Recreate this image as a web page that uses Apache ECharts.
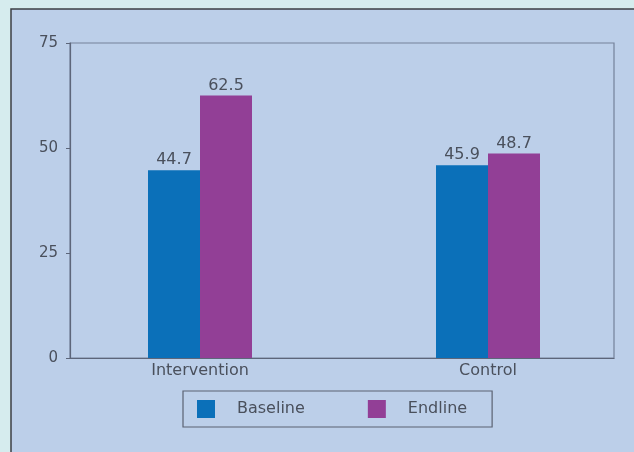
<!DOCTYPE html>
<html>
<head>
<meta charset="utf-8">
<style>
  html, body { margin: 0; padding: 0; background: #d6ecee; }
  #chart { width: 634px; height: 452px; }
</style>
<script src="https://cdn.jsdelivr.net/npm/echarts@6/dist/echarts.min.js"></script>
</head>
<body>
<div id="chart"></div>
<script>
// Group labels and the two survey rounds
const categories = ['Intervention', 'Control'];
const baseline = [44.7, 45.9];
const endline = [62.5, 48.7];
const seriesNames = ['Baseline', 'Endline'];

// Value axis range and tick step
const yMin = 0;
const yMax = 75;
const yStep = 25;

// Groups sit at positions 0 and 1 on a numeric x scale
const groupPos = categories.map((_, i) => i);
const xMin = -0.4514;
const xMax = 1.4375;

const FONT = 'DejaVu Sans';
const TEXT = '#4a505c';

const chart = echarts.init(document.getElementById('chart'), null, { renderer: 'canvas' });

chart.setOption({
  backgroundColor: 'transparent',
  animation: false,
  textStyle: { fontFamily: FONT },
  graphic: [{
    type: 'rect',
    z: -10,
    silent: true,
    shape: { x: 11, y: 9, width: 640, height: 460 },
    style: { fill: '#bccfe9', stroke: '#3c3f44', lineWidth: 1.5 }
  }],
  grid: {
    left: 70, right: 20, top: 43, bottom: 94,
    show: true, borderColor: '#74819a', borderWidth: 1.2,
    backgroundColor: 'transparent'
  },
  legend: {
    left: 183, top: 391,
    orient: 'horizontal',
    padding: [9, 25, 9, 14],
    borderColor: '#5b6272', borderWidth: 1.2,
    itemWidth: 18, itemHeight: 18, itemGap: 63,
    icon: 'rect',
    data: seriesNames,
    textStyle: { fontFamily: FONT, fontSize: 16, color: TEXT, padding: [0, 0, 0, 17] }
  },
  xAxis: {
    type: 'value',
    min: xMin, max: xMax,
    splitLine: { show: false },
    axisLine: { show: true, onZero: false, lineStyle: { color: '#5d667a', width: 1.2 } },
    axisTick: { show: false },
    axisLabel: {
      customValues: groupPos,
      formatter: v => categories[Math.round(v)] || '',
      fontFamily: FONT, fontSize: 16, color: TEXT, margin: 5,
      showMinLabel: true, showMaxLabel: true
    }
  },
  yAxis: {
    type: 'value',
    min: yMin, max: yMax, interval: yStep,
    splitLine: { show: false },
    axisLine: { show: true, onZero: false, lineStyle: { color: '#5d667a', width: 1.2 } },
    axisTick: { show: true, inside: false, length: 4, lineStyle: { color: '#5d667a' } },
    axisLabel: { fontFamily: FONT, fontSize: 15, color: TEXT, margin: 12 }
  },
  series: [
    {
      name: seriesNames[0],
      type: 'bar',
      barWidth: 52,
      barGap: '0%',
      itemStyle: { color: '#0b70b9' },
      label: { show: true, position: 'top', distance: 2, fontFamily: FONT, fontSize: 16, color: TEXT },
      data: groupPos.map((x, i) => [x, baseline[i]])
    },
    {
      name: seriesNames[1],
      type: 'bar',
      barWidth: 52,
      barGap: '0%',
      itemStyle: { color: '#923f96' },
      label: { show: true, position: 'top', distance: 2, fontFamily: FONT, fontSize: 16, color: TEXT },
      data: groupPos.map((x, i) => [x, endline[i]])
    }
  ]
});
</script>
</body>
</html>
